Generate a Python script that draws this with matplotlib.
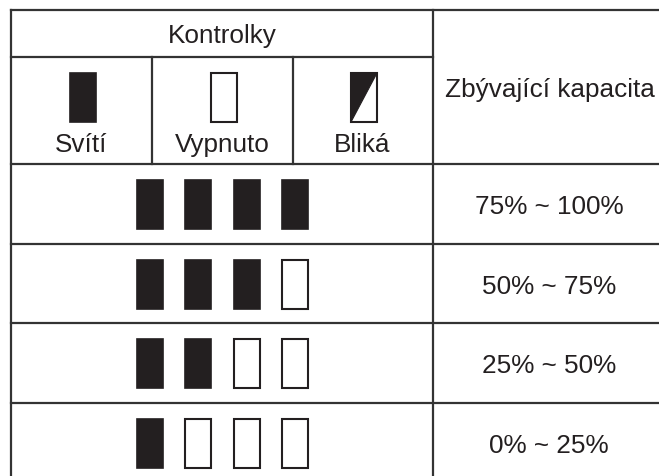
import matplotlib.pyplot as plt
from matplotlib.patches import Rectangle, Polygon

plt.rcParams['font.family'] = ['Liberation Sans', 'DejaVu Sans']

# table content
header_title = "Kontrolky"
capacity_title = "Zbývající kapacita"
legend_labels = ["Svítí", "Vypnuto", "Bliká"]
legend_states = ["on", "off", "blink"]
lit_counts = [4, 3, 2, 1]
capacity_labels = ["75% ~ 100%", "50% ~ 75%", "25% ~ 50%", "0% ~ 25%"]
n_leds = 4

INK = "#231f20"
LINE = "#333333"
FS = 18.8

# layout in pixel units (y grows downward)
W, H = 659, 477
left, right, top = 11, 659, 11
col_div = [152, 293]
cap_x = 433
cap_text_x = 549
row_lines = [58, 165, 245, 324, 404]
row_bottom = 483
led_w, led_h = 26, 49
led_x0, led_dx = 137, 48.3


def draw_led(ax, x, y, state):
    if state == "on":
        ax.add_patch(Rectangle((x, y), led_w, led_h, facecolor=INK,
                               edgecolor=INK, lw=1.2))
    elif state == "off":
        ax.add_patch(Rectangle((x, y), led_w, led_h, facecolor="white",
                               edgecolor=INK, lw=1.5))
    else:
        ax.add_patch(Polygon([(x, y), (x + led_w, y), (x, y + led_h)],
                             closed=True, facecolor=INK, edgecolor=INK, lw=0.8))
        ax.add_patch(Rectangle((x, y), led_w, led_h, facecolor="none",
                               edgecolor=INK, lw=1.5))


fig = plt.figure(figsize=(W / 100, H / 100), dpi=100)
ax = fig.add_axes([0, 0, 1, 1])
ax.set_xlim(0, W)
ax.set_ylim(H, 0)
ax.axis("off")

lw = 1.6
# frame and grid lines
ax.plot([left, right], [top, top], color=LINE, lw=lw)
ax.plot([left, left], [top, H], color=LINE, lw=lw)
ax.plot([cap_x, cap_x], [top, H], color=LINE, lw=lw)
ax.plot([left, cap_x], [row_lines[0], row_lines[0]], color=LINE, lw=lw)
for y in row_lines[1:]:
    ax.plot([left, right], [y, y], color=LINE, lw=lw)
for x in col_div:
    ax.plot([x, x], [row_lines[0], row_lines[1]], color=LINE, lw=lw)

# header
ax.text((left + cap_x) / 2, (top + row_lines[0]) / 2 + 1.5, header_title,
        fontsize=FS, color=INK, ha="center", va="center")
ax.text(cap_text_x + 1, (top + row_lines[1]) / 2 + 2, capacity_title,
        fontsize=FS, color=INK, ha="center", va="center")

# legend row
col_edges = [left] + col_div + [cap_x]
for i, (lab, st) in enumerate(zip(legend_labels, legend_states)):
    cx = (col_edges[i] + col_edges[i + 1]) / 2
    draw_led(ax, cx - led_w / 2 + 1, 74, st)
    ax.text(cx - 0.5, 145, lab, fontsize=FS, color=INK, ha="center", va="center")

# capacity rows
edges = row_lines[1:] + [row_bottom]
for r, (n_on, lab) in enumerate(zip(lit_counts, capacity_labels)):
    y0, y1 = edges[r], edges[r + 1]
    cy = (y0 + y1) / 2
    for k in range(n_leds):
        st = "on" if k < n_on else "off"
        draw_led(ax, led_x0 + k * led_dx, cy - led_h / 2 + 0.5, st)
    ax.text(cap_text_x, cy + 2.5, lab, fontsize=FS, color=INK,
            ha="center", va="center")

plt.savefig("out.png", dpi=100)
